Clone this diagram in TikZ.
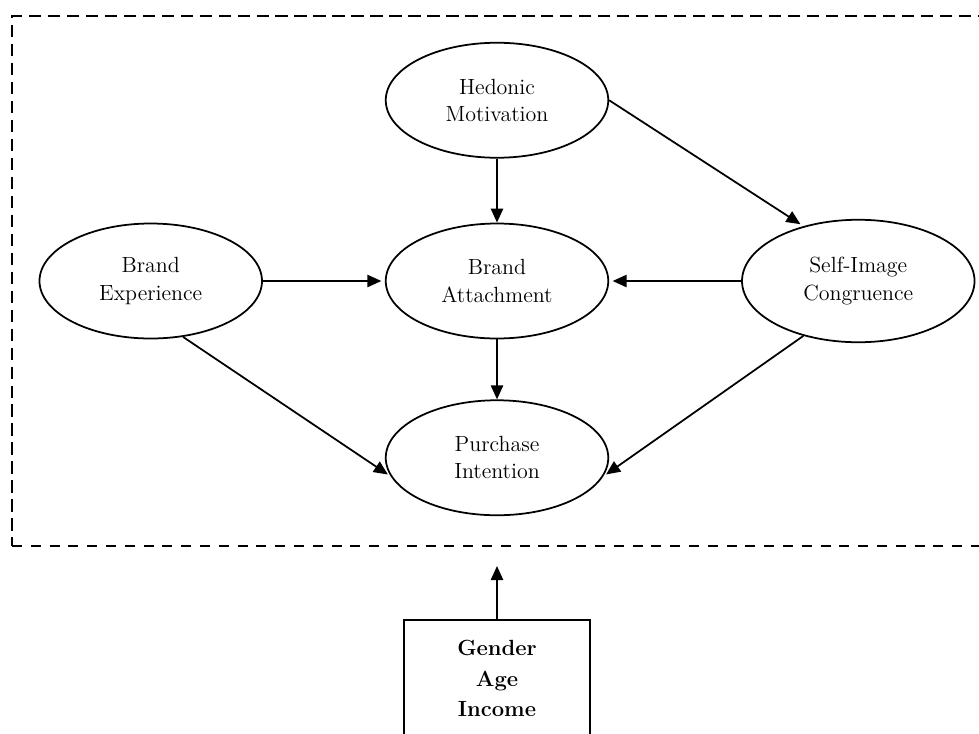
\documentclass[tikz,border=0pt]{standalone}
\usepackage{tikz}
\usetikzlibrary{positioning, shapes.geometric, arrows.meta}

\begin{document}
\begin{tikzpicture}[ node distance=1.2cm,
latent/.style={ellipse, draw=black, line width=1pt, minimum width=4.45cm, minimum height=2.3cm, align=center, font=\fontsize{12.5}{15.5}\selectfont, inner sep=0pt},
ctrlbox/.style={rectangle, draw=black, line width=1pt, minimum width=3.72cm, inner ysep=0.4cm, align=center, font=\fontsize{12.5}{17.5}\selectfont\bfseries},
arr/.style={-{Triangle[length=8pt, width=7pt]}, line width=1pt}]
\useasboundingbox (0,0) rectangle (19.58,-14.66);
\node (att) [latent] at (9.94,-5.62) {Brand\\Attachment};
\node (hed) [latent, above=1.28cm of att] {Hedonic\\Motivation};
\node (exp) [latent, left=2.44cm of att] {Brand\\Experience};
\node (self) [latent, minimum width=4.65cm, minimum height=2.45cm, right=2.64cm of att] {Self-Image\\Congruence};
\node (pur) [latent, below=1.2cm of att] {Purchase\\Intention};
\node (ctrl) [ctrlbox, below=2.06cm of pur] {Gender\\Age\\Income};
% dashed frame
\draw[line width=0.8pt, dash pattern=on 7pt off 3.8pt] (19.8,-0.32) -- (0.24,-0.32) -- (0.24,-10.92);
\draw[line width=1.4pt, dash pattern=on 5.7pt off 5pt] (0.24,-10.92) -- (19.8,-10.92);
\coordinate (edge) at (9.94,-11.32);
\path (hed) edge[arr] (att);
\path (hed.east) edge[arr, shorten >=2pt] (self.135);
\path (exp) edge[arr, shorten >=2pt] (att);
\path (self) edge[arr, shorten >=2pt] (att);
\path (att) edge[arr] (pur);
\path (exp.-60) edge[arr, shorten >=2pt] (pur.190);
\path (self.225) edge[arr, shorten >=2pt] (pur.-10);
\path (ctrl.north) edge[arr] (edge);
 \end{tikzpicture}
\end{document}
